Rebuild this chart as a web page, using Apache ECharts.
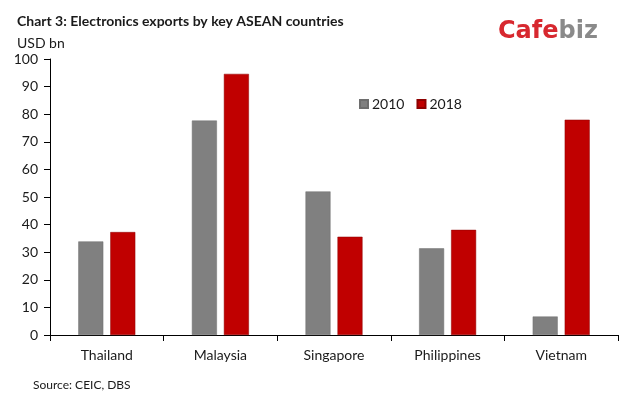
<!DOCTYPE html>
<html>
<head>
<meta charset="utf-8">
<script src="https://cdn.jsdelivr.net/npm/echarts@6/dist/echarts.min.js"></script>
<style>
  html, body { margin: 0; padding: 0; background: #fff; }
  #main { width: 640px; height: 399px; }
</style>
</head>
<body>
<div id="main"></div>
<script>
var countries = ['Thailand', 'Malaysia', 'Singapore', 'Philippines', 'Vietnam'];
var exports2010 = [33.9, 77.7, 52.0, 31.4, 6.7];
var exports2018 = [37.3, 94.6, 35.6, 38.1, 78.0];
var yTicks = [0, 10, 20, 30, 40, 50, 60, 70, 80, 90, 100];

var FONT = 'Lato';
var myChart = echarts.init(document.getElementById('main'));

var option = {
  backgroundColor: '#fff',
  animation: false,
  title: [
    {
      text: 'Chart 3: Electronics exports by key ASEAN countries',
      left: 12, top: 9,
      textStyle: { fontFamily: FONT, fontSize: 14, fontWeight: 'bold', color: '#1a1a1a' }
    },
    {
      text: 'USD bn',
      left: 12, top: 31,
      textStyle: { fontFamily: FONT, fontSize: 14, fontWeight: 'normal', color: '#1a1a1a' }
    },
    {
      text: 'Source: CEIC, DBS',
      left: 28, top: 374,
      textStyle: { fontFamily: FONT, fontSize: 12, fontWeight: 'normal', color: '#1a1a1a' }
    }
  ],
  graphic: [
    {
      type: 'text',
      left: 498, top: 20,
      style: {
        text: '{a|Cafe}{b|biz}',
        rich: {
          a: { fontFamily: 'DejaVu Sans', fontSize: 24, fontWeight: 'bold', fill: '#d7282f' },
          b: { fontFamily: 'DejaVu Sans', fontSize: 24, fontWeight: 'bold', fill: '#8a8a8a' }
        }
      }
    }
  ],
  legend: {
    left: 354, top: 92,
    itemWidth: 8, itemHeight: 8, itemGap: 12,
    icon: 'rect',
    textStyle: { fontFamily: FONT, fontSize: 14, color: '#1a1a1a', padding: [0, 0, 0, -1] },
    data: ['2010', '2018']
  },
  grid: { left: 50, right: 22, top: 59, bottom: 64, containLabel: false },
  xAxis: {
    type: 'category',
    data: countries,
    axisLine: { lineStyle: { color: '#000', width: 1 } },
    axisTick: { show: true, length: 6, lineStyle: { color: '#000' } },
    axisLabel: { fontFamily: FONT, fontSize: 14, color: '#1a1a1a', margin: 13 }
  },
  yAxis: {
    type: 'value',
    min: yTicks[0], max: yTicks[yTicks.length - 1], interval: 10,
    splitLine: { show: false },
    axisLine: { show: true, lineStyle: { color: '#000', width: 1 } },
    axisTick: { show: true, length: 6, lineStyle: { color: '#000' } },
    axisLabel: { fontFamily: FONT, fontSize: 14, color: '#1a1a1a', margin: 12 }
  },
  series: [
    {
      name: '2010',
      type: 'bar',
      data: exports2010,
      barWidth: 25,
      barGap: '28%',
      itemStyle: { color: '#808080', borderColor: '#6e6e6e', borderWidth: 0.5 }
    },
    {
      name: '2018',
      type: 'bar',
      data: exports2018,
      barWidth: 25,
      itemStyle: { color: '#c00000', borderColor: '#8e0000', borderWidth: 0.5 }
    }
  ]
};

myChart.setOption(option);
</script>
</body>
</html>
